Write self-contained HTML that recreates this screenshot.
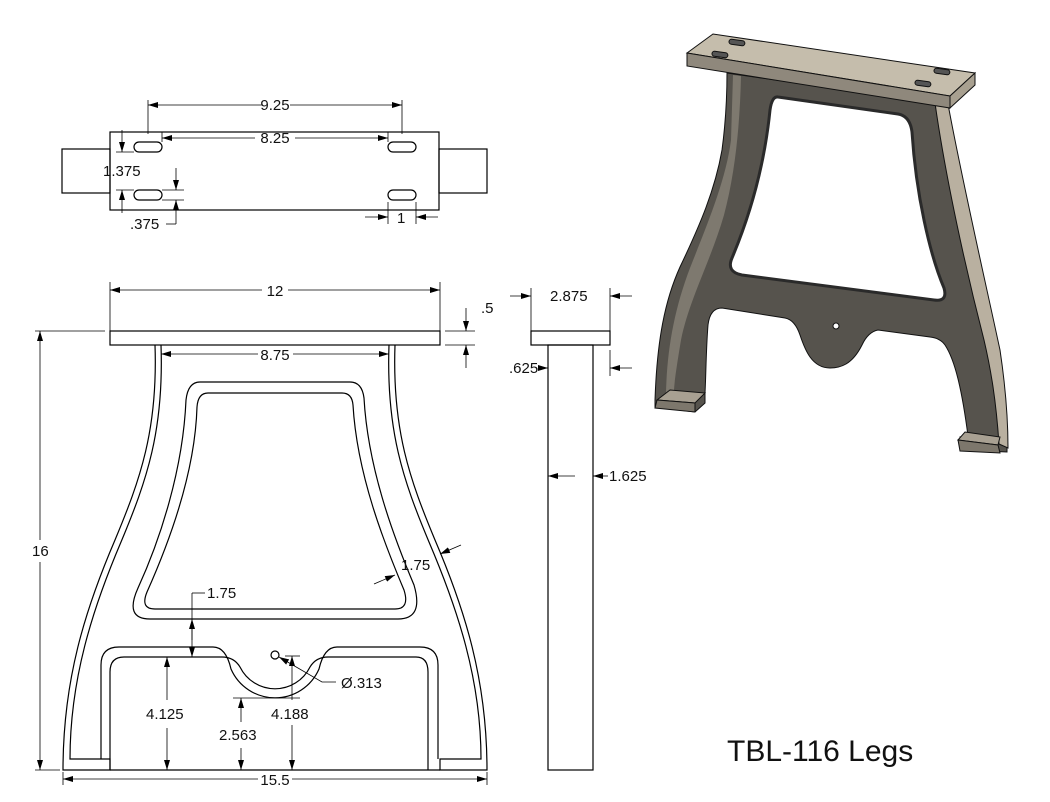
<!DOCTYPE html>
<html><head><meta charset="utf-8"><style>
html,body{margin:0;padding:0;background:#fff;}
svg{display:block;}
text{font-family:"Liberation Sans",sans-serif;font-size:15px;fill:#111;}
</style></head><body>
<svg width="1050" height="802" viewBox="0 0 1050 802" xmlns="http://www.w3.org/2000/svg">
<defs>
<marker id="a" viewBox="0 0 10 6" refX="10" refY="3" markerWidth="10" markerHeight="6" markerUnits="userSpaceOnUse" orient="auto"><path d="M0,0L10,3L0,6Z" fill="#000"/></marker>
</defs>
<g fill="none" stroke="#000" stroke-width="1.2">
<!-- TOP VIEW -->
<rect x="62" y="149" width="48" height="44"/>
<rect x="439" y="149" width="48" height="44"/>
<rect x="110" y="132" width="329" height="78"/>
<rect x="134" y="142" width="28" height="10" rx="5"/>
<rect x="134" y="190" width="28" height="10" rx="5"/>
<rect x="388" y="142" width="28" height="10" rx="5"/>
<rect x="388" y="190" width="28" height="10" rx="5"/>
<g stroke-width="0.8">
<line x1="148" y1="100" x2="148" y2="134"/><line x1="402" y1="100" x2="402" y2="134"/>
<line x1="262" y1="105" x2="148" y2="105" marker-end="url(#a)"/>
<line x1="290" y1="105" x2="402" y2="105" marker-end="url(#a)"/>
<line x1="255" y1="138" x2="162" y2="138" marker-end="url(#a)"/>
<line x1="295" y1="138" x2="388" y2="138" marker-end="url(#a)"/>
<line x1="162" y1="132" x2="162" y2="142"/><line x1="388" y1="132" x2="388" y2="142"/>
<line x1="116" y1="152" x2="134" y2="152"/><line x1="116" y1="190" x2="134" y2="190"/>
<line x1="122" y1="130" x2="122" y2="152" marker-end="url(#a)"/>
<line x1="122" y1="213" x2="122" y2="190" marker-end="url(#a)"/>
<line x1="162" y1="190" x2="184" y2="190"/><line x1="162" y1="200" x2="184" y2="200"/>
<line x1="176" y1="168" x2="176" y2="190" marker-end="url(#a)"/>
<line x1="176" y1="224" x2="176" y2="200" marker-end="url(#a)"/>
<line x1="166" y1="224" x2="176" y2="224"/>
<line x1="388" y1="202" x2="388" y2="224"/><line x1="416" y1="202" x2="416" y2="224"/>
<line x1="365" y1="217" x2="388" y2="217" marker-end="url(#a)"/>
<line x1="438" y1="217" x2="416" y2="217" marker-end="url(#a)"/>
</g>
<!-- FRONT VIEW -->
<rect x="110" y="331" width="330" height="14"/>
<path d="M155,345 C158,430 140,480 115,540 C85,610 63,680 63,770 L110,770 L110,759 L70,759 C70,680 92,610 121,542 C147,480 164,430 161,345"/>
<path d="M395,345 C392,430 410,480 435,540 C465,610 487,680 487,770 L440,770 L440,759 L481,759 C481,680 458,610 429,542 C403,480 386,430 389,345"/>
<path d="M101,759 L101,665 Q101,647 119,647 L213,647 Q226,647 231,669 A48,48 0 0 0 319,669 Q324,647 337,647 L420,647 Q438,647 438,665 L438,759"/>
<path d="M110,770 L110,672 Q110,657 124,657 L222,657 Q234,657 240,667 A39,39 0 0 0 310,667 Q316,657 328,657 L416,657 Q428,657 428,672 L428,770"/>
<line x1="110" y1="770" x2="440" y2="770"/>
<path d="M200,382 L350,382 Q362,382 364,398 C368,470 395,540 414,585 Q424,619 398,619 L150,619 Q124,619 138,588 C160,540 183,470 186,400 Q188,382 200,382 Z"/>
<path d="M208,393 L342,393 Q352,393 353,405 C357,475 385,545 404,590 Q410,609 395,609 L155,609 Q140,609 147,592 C168,545 195,475 197,407 Q198,393 208,393 Z"/>
<circle cx="275" cy="655" r="4"/>
<g stroke-width="0.8">
<line x1="110" y1="282" x2="110" y2="331"/><line x1="440" y1="282" x2="440" y2="331"/>
<line x1="262" y1="290" x2="110" y2="290" marker-end="url(#a)"/>
<line x1="288" y1="290" x2="440" y2="290" marker-end="url(#a)"/>
<line x1="445" y1="331" x2="475" y2="331"/><line x1="445" y1="345" x2="475" y2="345"/>
<line x1="466" y1="308" x2="466" y2="331" marker-end="url(#a)"/>
<line x1="466" y1="368" x2="466" y2="345" marker-end="url(#a)"/>
<line x1="35" y1="331" x2="105" y2="331"/><line x1="35" y1="770" x2="60" y2="770"/>
<line x1="40" y1="540" x2="40" y2="331" marker-end="url(#a)"/>
<line x1="40" y1="562" x2="40" y2="770" marker-end="url(#a)"/>
<line x1="258" y1="354" x2="161" y2="354" marker-end="url(#a)"/>
<line x1="293" y1="354" x2="389" y2="354" marker-end="url(#a)"/>
<line x1="63" y1="772" x2="63" y2="785"/><line x1="487" y1="772" x2="487" y2="785"/>
<line x1="258" y1="779" x2="63" y2="779" marker-end="url(#a)"/>
<line x1="292" y1="779" x2="487" y2="779" marker-end="url(#a)"/>
<line x1="374" y1="584" x2="395" y2="575" marker-end="url(#a)"/>
<line x1="461" y1="545" x2="440" y2="554" marker-end="url(#a)"/>
<line x1="205" y1="593" x2="192" y2="593"/>
<line x1="192" y1="593" x2="192" y2="619"/>
<line x1="192" y1="640" x2="192" y2="619" marker-end="url(#a)"/>
<line x1="192" y1="626" x2="192" y2="657" marker-end="url(#a)"/>
<line x1="167" y1="700" x2="167" y2="657" marker-end="url(#a)"/>
<line x1="167" y1="728" x2="167" y2="770" marker-end="url(#a)"/>
<line x1="233" y1="698" x2="300" y2="698"/>
<line x1="241" y1="722" x2="241" y2="698" marker-end="url(#a)"/>
<line x1="241" y1="748" x2="241" y2="770" marker-end="url(#a)"/>
<line x1="285" y1="656" x2="300" y2="656"/>
<line x1="292" y1="700" x2="292" y2="656" marker-end="url(#a)"/>
<line x1="292" y1="725" x2="292" y2="770" marker-end="url(#a)"/>
<polyline points="336,682 322,682 279,657" marker-end="url(#a)"/>
</g>
<!-- SIDE VIEW -->
<rect x="531" y="331" width="79" height="14"/>
<rect x="548" y="345" width="45" height="425"/>
<g stroke-width="0.8">
<line x1="531" y1="288" x2="531" y2="331"/><line x1="610" y1="288" x2="610" y2="331"/>
<line x1="510" y1="296" x2="531" y2="296" marker-end="url(#a)"/>
<line x1="632" y1="296" x2="610" y2="296" marker-end="url(#a)"/>
<line x1="610" y1="350" x2="610" y2="376"/>
<line x1="538" y1="368" x2="548" y2="368" marker-end="url(#a)"/>
<line x1="632" y1="368" x2="610" y2="368" marker-end="url(#a)"/>
<line x1="575" y1="476" x2="548" y2="476" marker-end="url(#a)"/>
<line x1="608" y1="476" x2="593" y2="476" marker-end="url(#a)"/>
</g>
</g>
<!-- labels -->
<text x="275" y="110" text-anchor="middle">9.25</text>
<text x="275" y="143" text-anchor="middle">8.25</text>
<text x="103" y="176">1.375</text>
<text x="130" y="229">.375</text>
<text x="397" y="223">1</text>
<text x="275" y="296" text-anchor="middle">12</text>
<text x="481" y="313">.5</text>
<rect x="32" y="540" width="18" height="20" fill="#fff"/>
<text x="32" y="556">16</text>
<text x="275" y="360" text-anchor="middle">8.75</text>
<text x="275" y="785" text-anchor="middle">15.5</text>
<text x="401" y="570">1.75</text>
<text x="207" y="598">1.75</text>
<rect x="146" y="704" width="44" height="18" fill="#fff"/>
<text x="146" y="719">4.125</text>
<rect x="219" y="726" width="44" height="18" fill="#fff"/>
<text x="219" y="740">2.563</text>
<text x="271" y="719">4.188</text>
<text x="341" y="688">Ø.313</text>
<text x="550" y="301">2.875</text>
<text x="509" y="373">.625</text>
<text x="609" y="481">1.625</text>
<text x="727" y="761" style="font-size:30px">TBL-116 Legs</text>
<!-- 3D VIEW -->
<g stroke="#111" stroke-width="1">
<path d="M727,73 L935,103 C948,180 975,280 993,350 C1000,380 1005,420 1007,440 L1007,452 L960,450 L960,437 L968,436 C962,390 955,360 945,345 Q940,338 930,337 L878,330 Q868,332 862,345 C852,365 840,368 830,368 C812,368 805,350 800,335 Q795,320 785,318 L722,308 Q710,308 708,325 C706,350 706,375 705,393 L705,403 L695,412 L655,407 L655,400 C657,340 665,300 680,267 C700,225 715,190 722,150 C726,120 727,95 727,73 Z" fill="#56534d"/>
<path d="M733,75 L741,76 C740,120 736,170 724,215 C711,260 689,300 681,340 C676,370 674,385 674,392 L666,393 C667,350 674,310 690,268 C707,225 726,180 731,140 Z" fill="#7e796f" stroke="none"/>
<path d="M935,103 L948,104 C962,180 985,280 1000,350 C1006,390 1008,420 1008,448 L999,444 C996,400 991,370 984,340 C966,270 946,180 935,103Z" fill="#b9b0a0"/>
<path d="M778,97 L898,114 Q910,116 912,132 C916,195 930,255 944,288 Q948,302 934,300 L742,275 Q726,272 732,258 C748,220 764,170 770,110 Q772,96 778,97Z" fill="#fff" stroke="#2a2a2a" stroke-width="3"/>
<path d="M657,400 L670,390 L705,393 L695,403 Z" fill="#a8a092"/>
<path d="M657,400 L695,403 L695,412 L655,408 Z" fill="#7d776c"/>
<path d="M958,440 L965,432 L1000,437 L998,445 Z" fill="#a8a092"/>
<path d="M958,440 L998,445 L1000,453 L960,451 Z" fill="#7d776c"/>
<path d="M687,53 L713,34 L975,73 L950,96 Z" fill="#c5bdac"/>
<path d="M687,53 L950,96 L950,108 L687,66 Z" fill="#8f887c"/>
<path d="M950,96 L975,73 L975,85 L950,108 Z" fill="#a8a090"/>
<rect x="729" y="40" width="16" height="5" rx="2.5" fill="#555" transform="rotate(8 737 42)"/>
<rect x="712" y="52" width="16" height="5" rx="2.5" fill="#555" transform="rotate(8 720 54)"/>
<rect x="934" y="69" width="16" height="5" rx="2.5" fill="#555" transform="rotate(8 942 71)"/>
<rect x="915" y="81" width="16" height="5" rx="2.5" fill="#555" transform="rotate(8 923 83)"/>
<circle cx="836" cy="326" r="3" fill="#fff"/>
</g>
</svg>
</body></html>
